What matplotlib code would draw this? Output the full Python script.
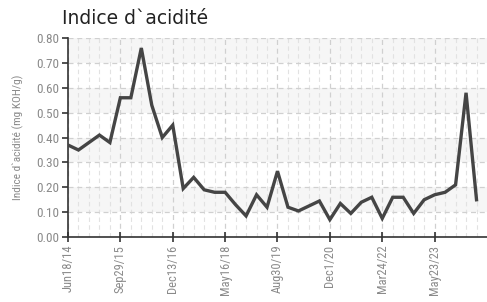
import matplotlib.pyplot as plt
from matplotlib.ticker import MultipleLocator

valeurs = [0.37, 0.35, 0.38, 0.41, 0.38, 0.56, 0.56, 0.76, 0.53, 0.40,
           0.45, 0.195, 0.24, 0.19, 0.18, 0.18, 0.13, 0.085, 0.17, 0.12,
           0.265, 0.12, 0.105, 0.125, 0.145, 0.07, 0.135, 0.095, 0.14, 0.16,
           0.075, 0.16, 0.16, 0.095, 0.15, 0.17, 0.18, 0.21, 0.58, 0.15]
etiquettes = ['Jun18/14', 'Sep29/15', 'Dec13/16', 'May16/18',
              'Aug30/19', 'Dec1/20', 'Mar24/22', 'May23/23']
pas_etiquette = 5

police = ['Roboto Condensed', 'Liberation Sans Narrow', 'DejaVu Sans']
gris = '#8a8a8a'

fig = plt.figure(figsize=(4.87, 3.02), dpi=100)
ax = fig.add_axes([0.1396, 0.215, 0.8604, 0.659])

x = list(range(len(valeurs)))

# bandes alternees
for b in [0.1, 0.3, 0.5, 0.7]:
    ax.axhspan(b, b + 0.1, color='#f6f6f6', zorder=0, lw=0)

ax.plot(x, valeurs, color='#454545', lw=2.4, zorder=3, solid_joinstyle='miter')

ax.set_xlim(0, 40)
ax.set_ylim(0, 0.8)
ax.yaxis.set_major_locator(MultipleLocator(0.1))
ax.yaxis.set_major_formatter(plt.FuncFormatter(lambda v, p: f'{v:.2f}'))

ticks_x = [i * pas_etiquette for i in range(len(etiquettes))]
ax.set_xticks(ticks_x)
ax.set_xticklabels(etiquettes, rotation=90, family=police, fontsize=9, color=gris)
ax.set_xticks(x, minor=True)
for lab in ax.get_yticklabels():
    lab.set_family(police)
    lab.set_fontsize(9.5)
    lab.set_color(gris)

ax.grid(True, which='major', axis='both', color='#d0d0d0', ls=(0, (4, 3)), lw=0.9, zorder=1)
ax.grid(True, which='minor', axis='x', color='#e2e2e2', ls=(0, (4, 3)), lw=0.8, zorder=1)
ax.set_axisbelow(True)

ax.tick_params(axis='x', which='major', direction='inout', length=7, width=1.2, color='#333333', pad=2)
ax.tick_params(axis='x', which='minor', length=0)
ax.tick_params(axis='y', length=4, width=1.2, color='#333333', pad=2)

for s in ['top', 'right']:
    ax.spines[s].set_visible(False)
for s in ['left', 'bottom']:
    ax.spines[s].set_color('#333333')
    ax.spines[s].set_linewidth(1.2)

ax.set_ylabel("Indice d`acidité (mg KOH/g)", family=police, fontsize=8.2, color=gris)
ax.yaxis.set_label_coords(-0.105, 0.5)
fig.text(0.127, 0.94, "Indice d`acidité", fontsize=13.5, color='#222222', va='center')

fig.savefig('out.png', dpi=100)
